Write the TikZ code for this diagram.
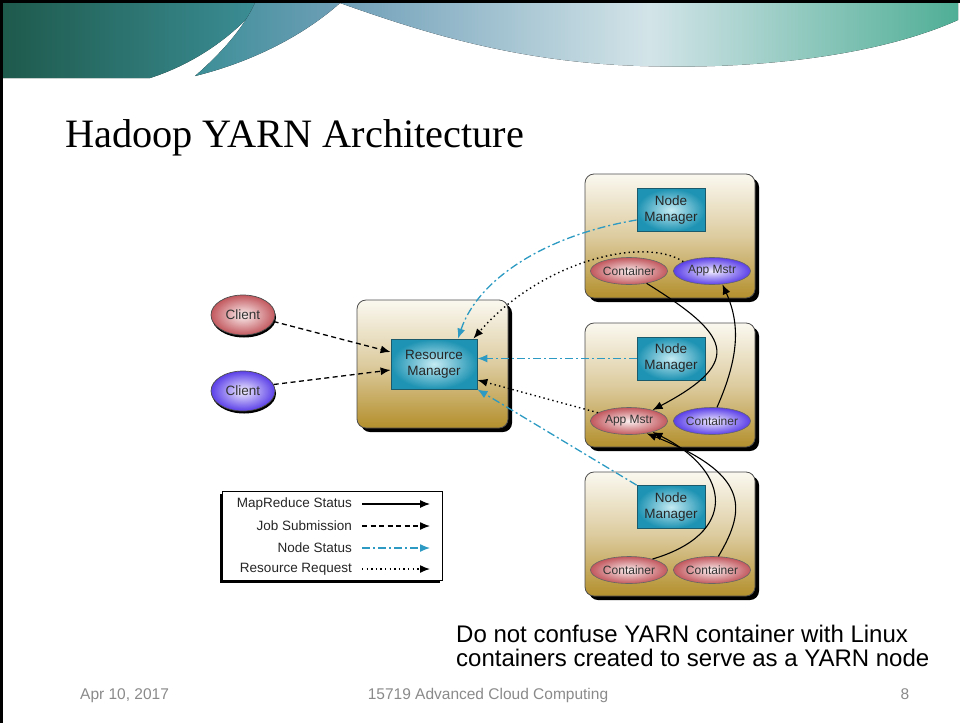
\documentclass[tikz,border=0pt]{standalone}
\usepackage{fontspec}
\setsansfont{Liberation Sans}
\newfontfamily\titlefont{Liberation Serif}
\usetikzlibrary{shapes.geometric,arrows.meta,shadows,calc}

\definecolor{hostTop}{HTML}{FAF8F0}
\definecolor{hostMid}{HTML}{DDCCA0}
\definecolor{hostBot}{HTML}{B38F2C}
\definecolor{mgrIn}{HTML}{C5EBF3}
\definecolor{mgrOut}{HTML}{1E93B3}
\definecolor{mgrEdge}{HTML}{1B5A6A}
\definecolor{redIn}{HTML}{FBEFEF}
\definecolor{redOut}{HTML}{C2585E}
\definecolor{purIn}{HTML}{F2EEFF}
\definecolor{purOut}{HTML}{5B3FE8}
\definecolor{statBlue}{HTML}{2C9AC2}
\definecolor{footGray}{HTML}{8A8A8A}
\definecolor{hdrDark}{HTML}{1E5A4C}
\definecolor{hdrTeal}{HTML}{3B8E96}
\definecolor{hdrBlue}{HTML}{6F9FB8}
\definecolor{hdrPale}{HTML}{D3E4E8}
\definecolor{hdrGreen}{HTML}{4FAE96}

\begin{document}
\begin{tikzpicture}[
    x=1pt, y=-1pt,
    font=\sffamily,
    >={Latex[length=10pt,width=8pt]},
    host/.style={rectangle, rounded corners=9pt, draw=black!70, line width=0.8pt, top color=hostTop, bottom color=hostBot, middle color=hostMid, minimum width=170pt, minimum height=124pt, drop shadow={shadow xshift=4pt, shadow yshift=-4pt, opacity=1, fill=black}},
    mgr/.style={rectangle, draw=mgrEdge, line width=0.8pt, inner color=mgrIn, outer color=mgrOut, minimum width=68pt, minimum height=43pt, inner sep=0pt, align=center, text=black!85, font=\sffamily\fontsize{13.5}{16}\selectfont},
    redjob/.style={ellipse, draw=black!60, line width=0.6pt, inner color=redIn, outer color=redOut, minimum width=77pt, minimum height=27pt, inner sep=0pt, text=black!80, font=\sffamily\fontsize{12}{14}\selectfont},
    purjob/.style={redjob, inner color=purIn, outer color=purOut},
    client/.style={ellipse, draw=black!70, line width=0.7pt, minimum width=64pt, minimum height=40pt, inner sep=0pt, text=black!80, font=\sffamily\fontsize{13.5}{16}\selectfont, drop shadow={shadow xshift=1pt, shadow yshift=-2.5pt, opacity=1, fill=black}},
    lgtext/.style={anchor=east, inner sep=0pt, text=black!85, font=\sffamily\fontsize{13.5}{15}\selectfont},
    mrstat/.style={->, black, line width=1.1pt},
    jobsub/.style={->, black, line width=1.3pt, dash pattern=on 5pt off 3.5pt},
    nodestat/.style={->, statBlue, line width=1.3pt, dash pattern=on 8pt off 3pt on 2pt off 3pt},
    resreq/.style={->, black, line width=1.4pt, dash pattern=on 1.4pt off 3.2pt}
]
\useasboundingbox (0,0) rectangle (960,723);

% slide header swoosh
\fill[left color=hdrDark, right color=hdrTeal] (3,3) -- (260,3) .. controls (240,30) and (200,62) .. (150,78) -- (3,78) -- cycle;
\fill[left color=hdrTeal, right color=hdrBlue] (255,3) -- (340,3) .. controls (310,30) and (260,60) .. (195,76) .. controls (225,50) and (245,25) .. (255,3) -- cycle;
\fill[left color=hdrBlue, right color=hdrGreen, middle color=hdrPale] (340,3) -- (958,3) -- (958,20) .. controls (880,55) and (760,70) .. (640,66) .. controls (520,62) and (430,35) .. (340,3) -- cycle;
\fill[black] (0,0) rectangle (2.5,723);
\fill[black] (0,0) rectangle (960,3);

% title
\node[anchor=base west, inner sep=0pt, font=\titlefont\fontsize{40.3}{45}\selectfont] (title) at (65,147) {Hadoop YARN Architecture};

% Resource Manager
\node[host, minimum width=151pt, minimum height=128pt] (rmhost) at (432.5,364) {};
\node[mgr, minimum width=86pt, minimum height=50pt] (rm) at (434,364) {Resource\\Manager};

% clients
\node[client, inner color=redIn, outer color=redOut] (cl1) at (243,315) {Client};
\node[client, inner color=purIn, outer color=purOut] (cl2) at (243,391) {Client};

% worker nodes
\node[host] (host1) at (670,236) {};
\node[host] (host2) at (670,385) {};
\node[host] (host3) at (670,534) {};

\node[mgr] (nm1) at (671,210) {Node\\Manager};
\node[mgr] (nm2) at (671,358.5) {Node\\Manager};
\node[mgr] (nm3) at (671,507) {Node\\Manager};

\node[redjob] (ct1) at (629,271) {Container};
\node[purjob] (am1) at (712,271) {App Mstr};
\node[redjob] (am2) at (629,421) {App Mstr};
\node[purjob] (ct2) at (712,421) {Container};
\node[redjob] (ct3) at (629,570) {Container};
\node[redjob] (ct4) at (712,570) {Container};

% job submission
\draw[jobsub] (cl1.-12) -- ([yshift=12pt]rm.west);
\draw[jobsub] (cl2.12) -- ([yshift=-6pt]rm.west);

% node status
\draw[nodestat] ([yshift=-10pt]nm1.west) .. controls +(-90,15) and +(20,-60) .. ([xshift=24pt]rm.north);
\draw[nodestat] (nm2.west) -- (nm2.west -| rm.east);
\draw[nodestat] (nm3.north west) -- (rm.south east);

% resource request
\draw[resreq] (am1.162) .. controls +(-40,-26) and +(67,-77) .. ([xshift=-4pt]rm.north east);
\draw[resreq] (am2.165) -- ([yshift=-16pt]rm.east);

% mapreduce status
\draw[mrstat] (ct1.-35) .. controls +(80,50) and +(95,-50) .. (am2.25);
\draw[mrstat] (ct2.70) .. controls +(22,-50) and +(18,40) .. (am1.-52);
\draw[mrstat] (ct3.25) .. controls +(85,-25) and +(80,40) .. (am2.-25);
\draw[mrstat] (ct4.65) .. controls +(30,-50) and +(100,40) .. (am2.-35);

% legend
\node[draw=black, line width=0.8pt, fill=white, minimum width=220pt, minimum height=89pt, drop shadow={shadow xshift=-2pt, shadow yshift=-2pt, opacity=1, fill=black}] (legend) at (332,536) {};
\node[lgtext] (lg1) at (352,504) {MapReduce Status};
\node[lgtext] (lg2) at (352,526) {Job Submission};
\node[lgtext] (lg3) at (352,548) {Node Status};
\node[lgtext] (lg4) at (352,569) {Resource Request};
\coordinate (lg1a) at (362,504); \coordinate (lg1b) at (430,504);
\coordinate (lg2a) at (362,526); \coordinate (lg2b) at (430,526);
\coordinate (lg3a) at (362,548); \coordinate (lg3b) at (430,548);
\coordinate (lg4a) at (362,569); \coordinate (lg4b) at (430,569);
\draw[mrstat] (lg1a) -- (lg1b);
\draw[jobsub] (lg2a) -- (lg2b);
\draw[nodestat] (lg3a) -- (lg3b);
\draw[resreq] (lg4a) -- (lg4b);

% note
\node[anchor=base west, inner sep=0pt, font=\sffamily\fontsize{24}{26}\selectfont] (note1) at (456,642) {Do not confuse YARN container with Linux};
\node[anchor=base west, inner sep=0pt, font=\sffamily\fontsize{24}{26}\selectfont] (note2) at (456,666) {containers created to serve as a YARN node};

% footer
\node[anchor=base west, inner sep=0pt, text=footGray, font=\sffamily\fontsize{15.5}{18}\selectfont] (date) at (80,699) {Apr 10, 2017};
\node[anchor=base, inner sep=0pt, text=footGray, font=\sffamily\fontsize{15.5}{18}\selectfont] (course) at (488,699) {15719 Advanced Cloud Computing};
\node[anchor=base, inner sep=0pt, text=footGray, font=\sffamily\fontsize{15.5}{18}\selectfont] (pgnum) at (905,699) {8};

\end{tikzpicture}
\end{document}
